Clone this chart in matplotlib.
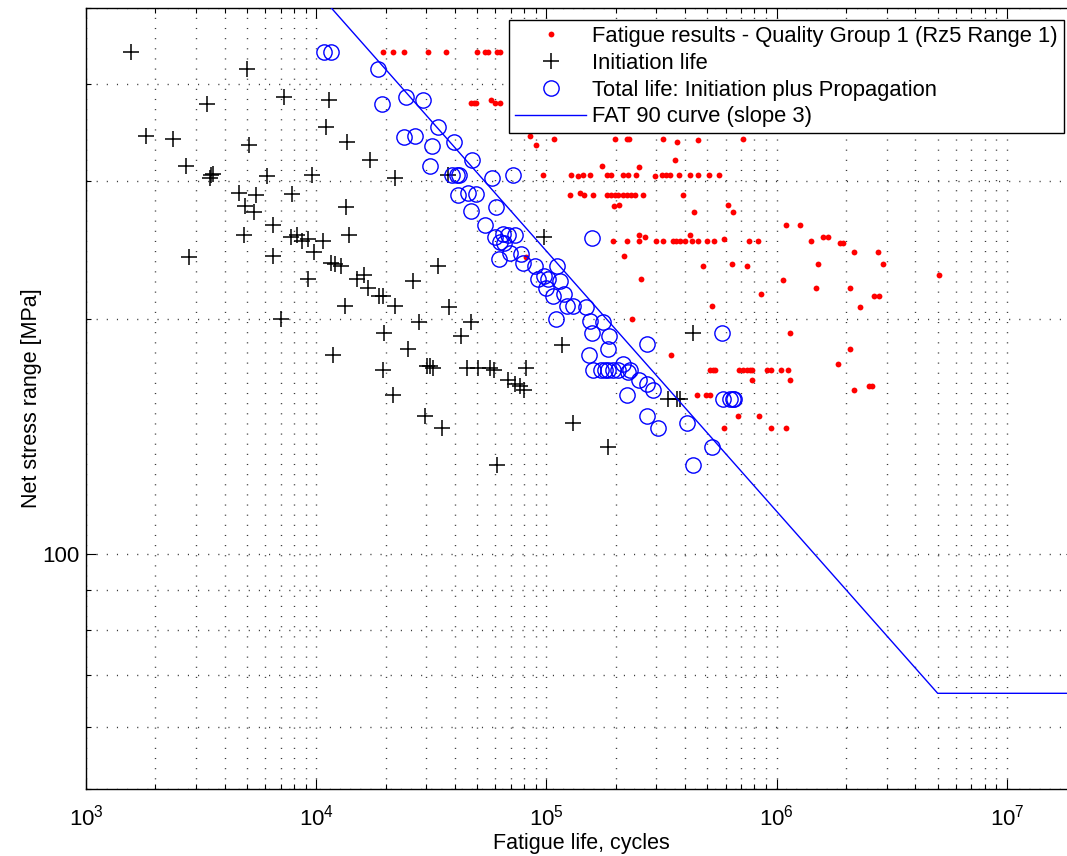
import matplotlib
matplotlib.use("Agg")
import matplotlib.pyplot as plt
import numpy as np
from matplotlib.ticker import LogLocator, FixedLocator, NullFormatter, FixedFormatter

plt.rcParams['font.family'] = ['Liberation Sans', 'DejaVu Sans']

# Fatigue results - Quality Group 1 (cycles, MPa)
test_N = [19440, 21610, 24050, 30480, 36600, 50060, 54070, 55880, 60770, 62810,
          46990, 48420, 49400, 59750, 62810, 57240,
          107800, 198400, 223000, 228800, 321600, 455000, 715900, 84790, 90040, 367700,
          361500, 173700, 253000,
          96850, 127400, 137400, 143600, 154500, 182600, 190000, 214200, 225200, 244800,
          296000, 316500, 329400, 343900, 377400, 420000, 455000, 507800, 562900,
          126500, 140200, 145900, 159700, 182600, 190000, 198400, 205000, 214200, 223000,
          232800, 242300, 263300, 392700,
          197000, 207100, 438500, 616200, 643800,
          193900, 223000, 253000, 299000, 319700, 353300, 365100, 380000, 399500, 429800,
          453600, 499300, 533900, 590200, 760000, 831800, 1404000,
          253000, 267800, 420000, 1097000, 1262000, 1583000, 1664000, 1876000, 1940000,
          2172000, 2761000, 476900, 641300, 740500, 1506000, 2885000, 5066000, 1061000,
          1476000, 2074000, 857100, 2645000, 2772000, 524800, 2292000, 1142000, 2087000,
          1840000, 346300,
          512900, 527000, 539300, 687800, 711600, 740500, 765300, 778400, 904500, 944100,
          1043000, 1122000,
          783100, 1142000, 2516000, 2585000, 2159000, 451800, 491400, 512900,
          676800, 837600, 592000, 944100, 1097000,
          81470, 217000, 257300, 234400]
test_S = [439, 439, 439, 439, 439, 439, 439, 439, 439, 439,
          378, 378, 378, 378, 378, 382,
          340, 340, 340, 340, 340, 339, 340, 343, 334, 337,
          320, 314, 313,
          306, 306, 305, 306, 306, 306, 306, 306, 306, 306,
          305, 306, 306, 306, 306, 306, 306, 306, 306,
          288, 290, 288, 288, 288, 288, 288, 288, 288, 288,
          288, 288, 288, 288,
          279, 280, 274, 280, 274,
          252, 252, 252, 252, 252, 252, 252, 252, 252, 252,
          252, 252, 252, 253, 252, 252, 252,
          256, 255, 256, 264, 264, 255, 255, 250, 250,
          244, 244, 234, 235, 234, 235, 235, 228, 224.5,
          219, 219, 215, 214, 214, 208, 207, 192, 183,
          175, 180,
          172, 172, 172, 172, 172, 172, 172, 172, 172, 172,
          172, 172,
          167, 167, 164, 164, 162, 160, 160, 160,
          150, 150, 145, 145, 145,
          240, 241, 225, 200]

# Initiation life
init_N = [1564, 4989, 3343, 7265, 11360, 11020, 1817, 2380, 5104, 13600,
          17170, 2719, 3491, 3572, 3456, 6094, 9614, 22050, 4605, 5458,
          7870, 4920, 5383, 13470, 6510, 4856, 7745, 8225, 8647, 9182,
          10730, 13920, 97520, 37450, 2809, 6510, 9806, 11590, 12060, 12810,
          9182, 14990, 16170, 16730, 18790, 19440, 13330, 22050, 7010, 19630,
          11860, 19440, 21480,
          33690, 26240, 37830, 28030, 46990, 42400, 25100, 117100, 30180, 31190,
          32240, 45010, 50550, 56840, 59340, 81240, 68250, 72980, 76740, 80110,
          338100, 367700, 380000, 29670, 35270, 129900, 184400, 60770, 434100]
init_S = [439, 418, 377, 385, 382, 352, 343, 340, 334, 337,
          320, 314, 306, 307, 303, 305, 306, 303, 290, 288,
          289, 279, 274, 278, 264, 256, 255, 256, 252, 253,
          252, 256, 255, 306, 240, 241, 244, 236, 235, 234,
          225, 225, 228, 219, 214, 214, 208, 208, 200, 192,
          180, 172, 160,
          234, 224, 207, 198, 198, 190, 183, 185, 174, 174,
          173, 173, 173, 173, 172, 173, 167, 165, 164, 162,
          158, 158, 158, 150, 145, 147, 137, 130, 192]

# Total life: initiation plus propagation
total_N = [10770, 11630, 18490, 19240, 24530, 29000, 33690, 24120, 26850, 31920,
           39650, 47320, 31190, 38750, 40740, 41810, 57810, 71750, 41400, 45740,
           49400, 46990, 60170, 54070, 59750, 64920, 68250, 72980, 62810, 65370,
           157100,
           62180, 69420, 77270, 79300, 89130, 111400, 92140, 97810, 101200, 114400,
           99490, 107000, 119100, 122400, 130700, 148400, 110000, 154500, 175400,
           158100, 186800, 185500, 272400, 153400,
           158700, 172500, 179500, 185500, 195000, 205000, 230500, 215500, 226600,
           253000, 272400, 289200, 223000, 274100, 305900, 408800, 434100,
           576700, 582500, 626700, 643800, 654300, 524800]
total_S = [439, 439, 418, 377, 385, 382, 352, 342, 343, 333,
           337, 320, 314, 306, 306, 306, 303, 306, 288, 290,
           289, 275, 278, 264, 255, 257, 256, 256, 251, 250,
           254,
           239, 243, 242, 236, 234, 234, 225, 227, 225, 224,
           219, 214, 215, 208, 208, 207, 200, 199, 198,
           192, 190, 183, 186, 180,
           172, 172, 172, 172, 172, 172, 172, 175, 171,
           167, 165, 162, 160, 150, 145, 147, 130,
           192, 158, 158, 158, 158, 137]

# FAT 90 curve (slope 3), knee at 5e6 cycles
fat_N = [1.0e4, 5.0e6, 2.0e7]
fat_S = [526.3, 66.3, 66.3]

fig = plt.figure(figsize=(10.67, 8.56), dpi=100)
ax = fig.add_axes([0.0806, 0.0783, 0.9281, 0.9120])

ax.loglog(test_N, test_S, 'o', color='#ff0000', markersize=4.2, markeredgewidth=0,
          linestyle='none', label='Fatigue results - Quality Group 1 (Rz5 Range 1)', zorder=3)
ax.loglog(init_N, init_S, '+', color='black', markersize=11, markeredgewidth=1.1,
          linestyle='none', label='Initiation life', zorder=4)
ax.loglog(total_N, total_S, 'o', markerfacecolor='none', markeredgecolor='#0000ff',
          markersize=11, markeredgewidth=1.0, linestyle='none',
          label='Total life: Initiation plus Propagation', zorder=5)
ax.loglog(fat_N, fat_S, '-', color='#0000ff', linewidth=1.0,
          label='FAT 90 curve (slope 3)', zorder=6)

ax.set_xlim(1e3, 2e7)
ax.set_ylim(50, 500)

ax.xaxis.set_major_locator(LogLocator(base=10, numticks=12))
ax.xaxis.set_minor_locator(LogLocator(base=10, subs=np.arange(2, 10), numticks=12))
ax.xaxis.set_minor_formatter(NullFormatter())
ax.yaxis.set_major_locator(FixedLocator([100]))
ax.yaxis.set_major_formatter(FixedFormatter(['100']))
ax.yaxis.set_minor_locator(LogLocator(base=10, subs=np.arange(2, 10), numticks=12))
ax.yaxis.set_minor_formatter(NullFormatter())

ax.tick_params(which='both', direction='in', top=True, right=True, labelsize=16, colors='black')
ax.tick_params(which='major', length=7.5, width=0.8)
ax.tick_params(which='minor', length=3.6, width=0.8)
ax.tick_params(axis='x', which='major', pad=11)
ax.tick_params(axis='y', which='major', pad=5)

ax.grid(True, which='both', color='#3a3a3a', linestyle=(0, (0.8, 6.5)), linewidth=1.0)
ax.set_axisbelow(True)
for s in ax.spines.values():
    s.set_linewidth(1.0)

ax.set_xlabel('Fatigue life, cycles', fontsize=15.5, labelpad=2)
ax.set_ylabel('Net stress range [MPa]', fontsize=15.5, labelpad=0)

leg = ax.legend(loc='upper right', bbox_to_anchor=(1064 / 1067, 1 - 20 / 856),
                bbox_transform=fig.transFigure, fontsize=15.8, frameon=True, fancybox=False,
                edgecolor='black', framealpha=1, labelspacing=0.26, handlelength=3.2,
                handletextpad=0.3, borderpad=0.28, borderaxespad=0)
leg.get_frame().set_linewidth(1.0)

fig.savefig('out.png', dpi=100)
